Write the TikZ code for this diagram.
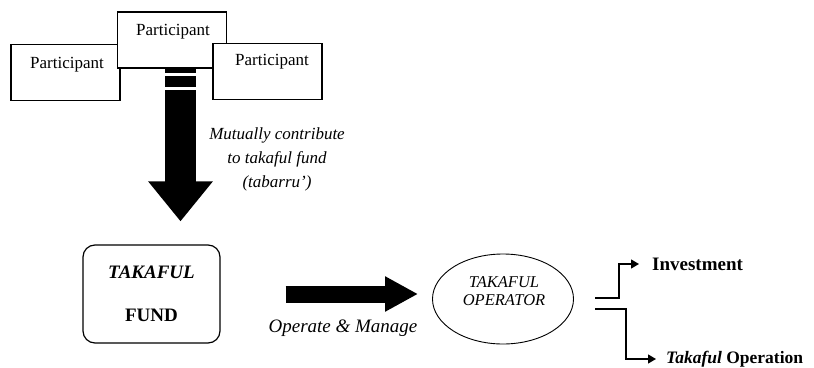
\documentclass[tikz,border=0pt]{standalone}
\usepackage{fontspec}
\setmainfont{Liberation Serif}
\usetikzlibrary{positioning,shapes.geometric,arrows.meta}
\tikzset{
  partBox/.style={draw,fill=white,line width=1.4pt,minimum width=109pt,minimum height=56pt,inner sep=0pt},
  partText/.style={inner sep=0pt,font=\fontsize{17}{20}\selectfont},
  fundBox/.style={draw,rounded corners=12pt,line width=1.2pt,minimum width=137pt,minimum height=98pt,align=center,font=\fontsize{19}{22}\selectfont},
  opEllipse/.style={draw,ellipse,line width=0.9pt,minimum width=141pt,minimum height=90pt},
  noteText/.style={inner sep=0pt,align=center,font=\itshape\fontsize{17}{24}\selectfont},
  outText/.style={inner sep=0pt,anchor=west,font=\bfseries\fontsize{19}{22}\selectfont},
  fatArrow/.style={line width=17pt,-{Triangle[length=33pt,width=33pt]}},
  fatDown/.style={line width=31pt,-{Triangle[length=40pt,width=62pt]}},
  branchLine/.style={line width=1.3pt,-{Triangle[length=8pt,width=9pt]}}
}
\begin{document}
\begin{tikzpicture}[x=1pt,y=-1pt]
\useasboundingbox (0,0) rectangle (814,367);
%% the participants
\node [partBox] (partLeft) at (65.5,72.5) {};
\node [partText] (partLeftTxt) at (67,65) {Participant};
\node [partBox] (partMid) at (172,40) {};
\node [partText] (partMidTxt) at (173,32) {Participant};
\node [partBox] (partRight) at (267.5,71.5) {};
\node [partText] (partRightTxt) at (272,62) {Participant};
%the nodes
\node [fundBox] (fundBox) at (151.5,294) {\textbf{\textit{TAKAFUL}}\\[21pt]\textbf{FUND}};
\node [opEllipse] (opEllipse) at (503,299) {};
\node [align=center,font=\itshape\fontsize{16.5}{18}\selectfont] (opText) at (504,291.5) {TAKAFUL\\OPERATOR};
\node [noteText] (contribText) at (277,159) {Mutually contribute\\to takaful fund\\(tabarru')};
\node [noteText,font=\itshape\fontsize{19}{22}\selectfont] (manageText) at (343,328) {Operate \& Manage};
\node [outText] (invest) at (652,264) {Investment};
\node [outText,font=\bfseries\fontsize{17.5}{20}\selectfont] (takOp) at (666,359) {\textit{Takaful} Operation};
\coordinate (downTop) at (180.5,68);
\coordinate (splitTop) at (595,298);
\coordinate (splitBot) at (595,309);
%drawings of arrows
\draw [fatDown,shorten >=23pt] (downTop) -- (downTop |- fundBox.north);
\draw [white,line width=3pt] (164,74.5) -- (197,74.5);
\draw [white,line width=2.5pt] (164,88.7) -- (197,88.7);
\draw [fatArrow,shorten <=65pt,shorten >=14pt] (fundBox.east) -- (fundBox.east -| opEllipse.west);

\draw [branchLine] (splitTop) -- ++(24,0) |- ([xshift=-13pt]invest.west);
\draw [branchLine] (splitBot) -- ++(31,0) |- ([xshift=-10pt]takOp.west);
\end{tikzpicture}
\end{document}
